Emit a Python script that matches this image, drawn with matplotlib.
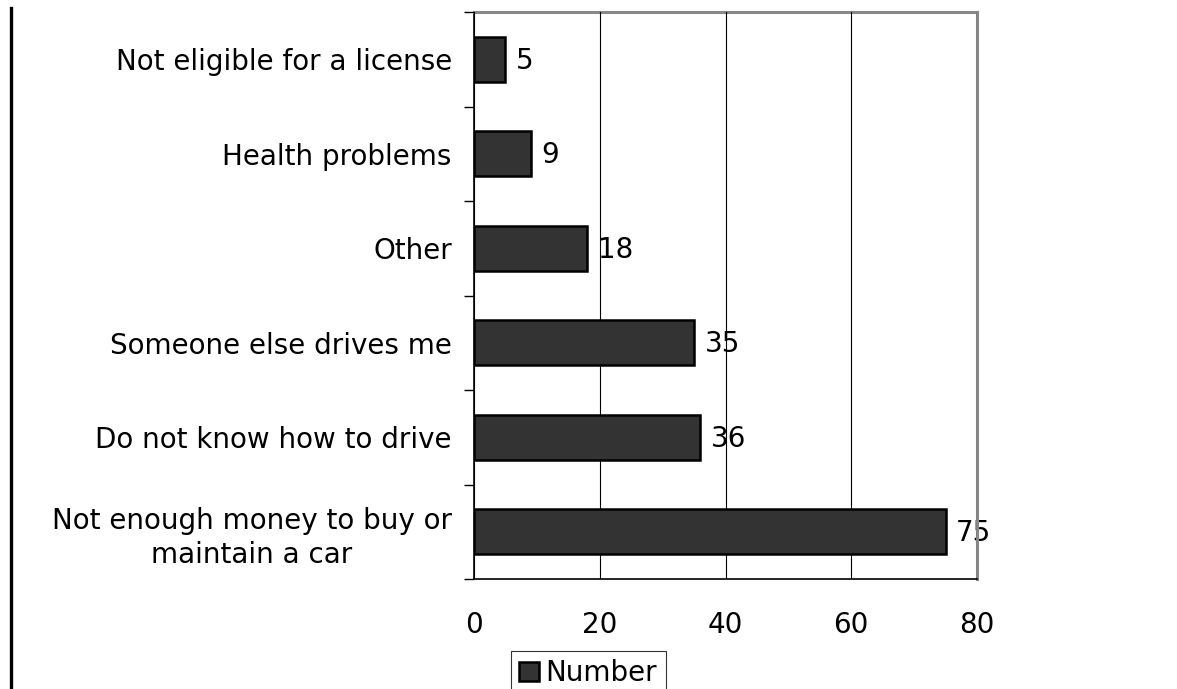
import matplotlib
matplotlib.use("Agg")
import matplotlib.pyplot as plt
from matplotlib.lines import Line2D

# Reasons for not driving (counts), listed bottom to top
reasons = [
    "Not enough money to buy or\nmaintain a car",
    "Do not know how to drive",
    "Someone else drives me",
    "Other",
    "Health problems",
    "Not eligible for a license",
]
counts = [75, 36, 35, 18, 9, 5]
xticks = [0, 20, 40, 60, 80]

plt.rcParams["font.family"] = ["DejaVu Sans"]
FS = 20

fig = plt.figure(figsize=(11.77, 6.89), dpi=100)
ax = fig.add_axes([474 / 1177, 1 - 579 / 689, 503 / 1177, 567 / 689])

pos = list(range(len(reasons)))
bars = ax.barh(pos, counts, height=0.48, color="#333333", edgecolor="black",
               linewidth=1.8, label="Number", zorder=3)

for b, v in zip(bars, counts):
    ax.annotate(str(v), (b.get_width(), b.get_y() + b.get_height() / 2),
                xytext=(7.5, -1), textcoords="offset points",
                ha="left", va="center", fontsize=FS, zorder=1)

ax.set_xlim(0, 80)
ax.set_ylim(-0.5, len(reasons) - 0.5)
ax.set_xticks(xticks)
ax.set_xticklabels([str(t) for t in xticks], fontsize=FS)
ax.set_yticks(pos)
ax.set_yticklabels(reasons, fontsize=FS, ha="right", multialignment="center",
                   linespacing=1.3)
ax.tick_params(axis="y", length=0, pad=16)
ax.tick_params(axis="x", length=0, pad=23)

# category boundary ticks on the y axis, and x ticks below the axis
ax.set_yticks([p - 0.5 for p in range(len(reasons) + 1)], minor=True)
ax.tick_params(axis="y", which="minor", length=7.5, width=1, color="black")
ax.set_xticks(xticks, minor=True)
ax.tick_params(axis="x", which="minor", length=7.5, width=1, color="black")

ax.grid(axis="x", color="black", linewidth=0.8, zorder=2)
ax.set_axisbelow(False)

for side in ("top", "right"):
    ax.spines[side].set_color("#888888")
    ax.spines[side].set_linewidth(2.2)
for side in ("left", "bottom"):
    ax.spines[side].set_color("black")
    ax.spines[side].set_linewidth(1.2)

leg = fig.legend(loc="upper left", bbox_to_anchor=(511 / 1177, 1 - 651 / 689),
                 fontsize=FS, frameon=True, fancybox=False, handlelength=0.7,
                 handleheight=0.7, handletextpad=0.25, borderpad=0.3,
                 borderaxespad=0)
leg.get_frame().set_edgecolor("black")
leg.get_frame().set_linewidth(0.8)

# vertical rule along the left edge
fig.add_artist(Line2D([11 / 1177, 11 / 1177], [0, 1 - 8 / 689],
                      transform=fig.transFigure, color="black", linewidth=2.4))

fig.savefig("out.png", dpi=100)
